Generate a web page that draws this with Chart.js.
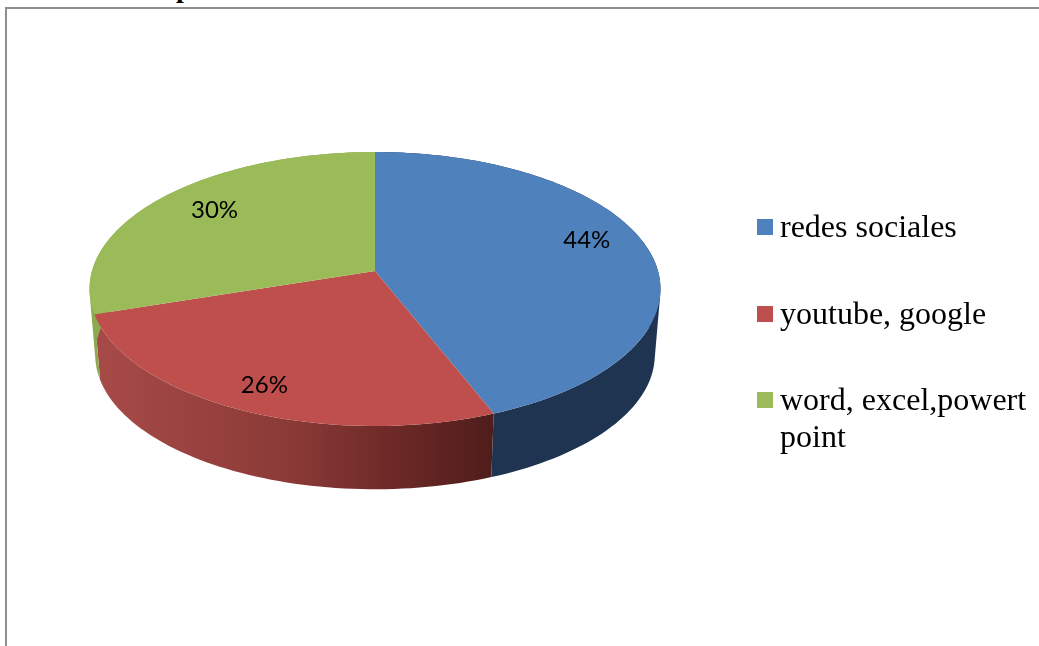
<!DOCTYPE html>
<html><head><meta charset="utf-8">
<script src="https://cdn.jsdelivr.net/npm/chart.js@4"></script>
<style>
html,body{margin:0;padding:0;width:1039px;height:646px;overflow:hidden;background:#fff}
#frame{position:absolute;left:5px;top:7px;width:1100px;height:700px;border:2px solid #8e8e8e;box-sizing:border-box}
#cut{position:absolute;left:176px;top:-27px;font:bold 28px "Liberation Serif",serif;color:#000;line-height:30px}
canvas{position:absolute;left:0;top:0}
</style></head><body>
<div id="cut">p</div>
<div id="frame"></div>
<canvas id="c" width="1039" height="646"></canvas>
<script>
const categories = ["redes sociales", "youtube, google", "word, excel,powert point"];
const shares = [44, 26, 30];
const tickLabels = ["44%", "26%", "30%"];
const topColors = ["#4F81BD", "#BE4F4C", "#9BBB59"];
const sideStops = [
  [[0, "#1F3450"], [1, "#1F3450"]],
  [[0, "#A84B48"], [0.5, "#8A3A37"], [0.72, "#702B29"], [1, "#4E1D1A"]],
  [[0, "#8CA950"], [1, "#8CA950"]]
];
const labelNudge = [[-1, -11], [-7, 10], [8, -3]];

const P = {c: -0.1314, d: 0.993, k: -0.1193, a: 0.4881, eyC: -0.0561, shift: 0.2316, scale: 0.98};
function top3(el, a, f) {
  const x = Math.cos(a) * f, y = Math.sin(a) * f, w = 1 + P.c * y, R = el.outerRadius;
  return [el.x + R * P.d * x / w, el.y + R * (P.k + P.a * y) / w];
}
function bottom3(el, a) {
  const p = top3(el, a, 1), R = el.outerRadius, cy = el.y + R * P.eyC;
  return [el.x + (p[0] - el.x) * P.scale, cy + (p[1] - cy) * P.scale + R * P.shift];
}
function area(q) {
  let s = 0;
  q.forEach((p, i) => { const r = q[(i + 1) % q.length]; s += p[0] * r[1] - r[0] * p[1]; });
  return s;
}
const pie3d = {
  id: "pie3d",
  beforeDatasetDraw(chart) {
    const ctx = chart.ctx, arcs = chart.getDatasetMeta(0).data, N = 120;
    ctx.save();
    arcs.forEach((el, i) => {
      const R = el.outerRadius, g = ctx.createLinearGradient(el.x - R, 0, el.x + 0.42 * R, 0);
      sideStops[i].forEach(s => g.addColorStop(s[0], s[1]));
      const span = el.endAngle - el.startAngle, n = Math.max(8, Math.round(N * span / Math.PI));
      ctx.fillStyle = g;
      ctx.beginPath();
      for (let k = 0; k < n; k++) {
        const a0 = el.startAngle + span * k / n, a1 = el.startAngle + span * (k + 1) / n;
        let q = [top3(el, a0, 1), top3(el, a1, 1), bottom3(el, a1), bottom3(el, a0)];
        if (area(q) < 0) q = q.reverse();
        ctx.moveTo(q[0][0], q[0][1]);
        for (let j = 1; j < 4; j++) ctx.lineTo(q[j][0], q[j][1]);
        ctx.closePath();
      }
      ctx.fill("nonzero");
    });
    arcs.forEach(el => {
      const n = Math.max(8, Math.round(N * (el.endAngle - el.startAngle) / Math.PI));
      const c = top3(el, 0, 0);
      ctx.beginPath();
      ctx.moveTo(c[0], c[1]);
      for (let k = 0; k <= n; k++) {
        const p = top3(el, el.startAngle + (el.endAngle - el.startAngle) * k / n, 1);
        ctx.lineTo(p[0], p[1]);
      }
      ctx.closePath();
      ctx.fillStyle = el.options.backgroundColor;
      ctx.fill();
    });
    ctx.restore();
    return false;
  },
  afterDatasetsDraw(chart) {
    const ctx = chart.ctx, arcs = chart.getDatasetMeta(0).data;
    ctx.save();
    ctx.fillStyle = "#000";
    ctx.font = '24px Lato, sans-serif';
    ctx.textAlign = "center";
    ctx.textBaseline = "middle";
    arcs.forEach((el, i) => {
      const p = top3(el, (el.startAngle + el.endAngle) / 2, 0.78);
      ctx.fillText(tickLabels[i], p[0] + labelNudge[i][0], p[1] + labelNudge[i][1]);
    });
    // legend
    ctx.textAlign = "left";
    ctx.textBaseline = "alphabetic";
    ctx.font = '32px "Liberation Serif", serif';
    const sw = 16, boxX = 757, textX = 780, rowY = [237, 324, 410], lh = 37, maxW = 255;
    categories.forEach((t, i) => {
      ctx.fillStyle = topColors[i];
      ctx.fillRect(boxX, rowY[i] - 18, sw, sw);
      ctx.fillStyle = "#000";
      let line = "", y = rowY[i];
      t.split(" ").forEach(w => {
        const test = line ? line + " " + w : w;
        if (ctx.measureText(test).width > maxW && line) {
          ctx.fillText(line, textX, y); y += lh; line = w;
        } else line = test;
      });
      ctx.fillText(line, textX, y);
    });
    ctx.restore();
  }
};
new Chart(document.getElementById("c"), {
  type: "pie",
  data: {labels: categories, datasets: [{data: shares, backgroundColor: topColors, borderWidth: 0}]},
  options: {
    responsive: false, animation: false, devicePixelRatio: 1,
    layout: {padding: {left: 90, right: 379, top: 20, bottom: 56}},
    plugins: {legend: {display: false}, tooltip: {enabled: false}}
  },
  plugins: [pie3d]
});
</script>
</body></html>
